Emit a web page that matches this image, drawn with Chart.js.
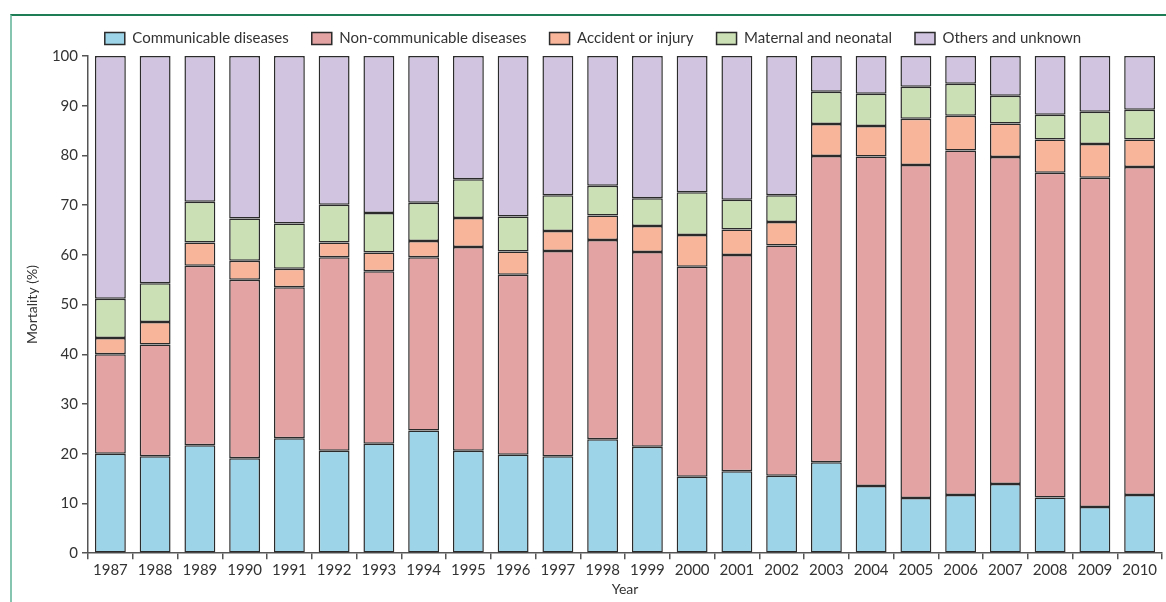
<!DOCTYPE html>
<html>
  <head>
    <style>
      body {
        margin: 0;
        background: #fff;
      }
      .frame {
        position: absolute;
        left: 10px;
        top: 14px;
        width: 1156px;
        height: 588px;
        border-top: 2px solid #1e7d55;
        border-left: 2px solid #86c6b1;
        pointer-events: none;
      }
      .chart-box {
        position: absolute;
        left: 0;
        top: 0;
        width: 1166px;
        height: 602px;
      }
    </style>
    <script src="https://cdn.jsdelivr.net/npm/chart.js"></script>
  </head>
  <body>
    <div class="frame"></div>
    <div class="chart-box">
      <canvas id="mortalityChart"></canvas>
    </div>
    <script>
      var years = ['1987', '1988', '1989', '1990', '1991', '1992', '1993', '1994',
        '1995', '1996', '1997', '1998', '1999', '2000', '2001', '2002', '2003',
        '2004', '2005', '2006', '2007', '2008', '2009', '2010'];

      // share of deaths (%) per category
      var communicable = [20.0, 19.5, 21.7, 19.1, 23.1, 20.6, 22.0, 24.7, 20.6, 19.8, 19.5, 22.9,
        21.4, 15.4, 16.5, 15.6, 18.3, 13.5, 11.1, 11.7, 13.9, 11.2, 9.3, 11.7];
      var nonCommunicable = [20.0, 22.5, 36.1, 35.9, 30.4, 38.9, 34.7, 34.8, 41.0, 36.2, 41.3, 40.1,
        39.2, 42.2, 43.5, 46.3, 61.6, 66.3, 67.0, 69.3, 65.8, 65.3, 66.2, 66.0];
      var accident = [3.3, 4.5, 4.7, 3.8, 3.7, 3.0, 3.8, 3.3, 5.8, 4.7, 4.0, 4.9,
        5.2, 6.4, 5.1, 4.7, 6.4, 6.1, 9.3, 7.0, 6.7, 6.7, 6.8, 5.5];
      var maternal = [7.9, 7.8, 8.2, 8.5, 9.1, 7.6, 7.9, 7.7, 7.8, 7.0, 7.2, 6.0,
        5.6, 8.6, 6.0, 5.4, 6.5, 6.5, 6.4, 6.4, 5.6, 5.0, 6.5, 6.0];
      var others = [48.8, 45.7, 29.3, 32.7, 33.7, 29.9, 31.6, 29.5, 24.8, 32.3, 28.0, 26.1,
        28.6, 27.4, 28.9, 28.0, 7.2, 7.6, 6.2, 5.6, 8.0, 11.8, 11.2, 10.8];

      var seriesNames = ['Communicable diseases', 'Non-communicable diseases',
        'Accident or injury', 'Maternal and neonatal', 'Others and unknown'];
      var seriesColors = ['#9dd4e7', '#e2a3a2', '#f9b59a', '#cbe0b5', '#d1c4e0'];
      var yTicks = [0, 10, 20, 30, 40, 50, 60, 70, 80, 90, 100];

      var seriesValues = [communicable, nonCommunicable, accident, maternal, others];
      var axisColor = '#555';
      var textColor = '#333';
      var fontFamily = 'Lato, "Noto Sans", sans-serif';

      var datasets = seriesValues.map(function(values, i) {
        return {
          label: seriesNames[i],
          data: values,
          backgroundColor: seriesColors[i],
          borderColor: '#2b2b2b',
          borderWidth: 1.5,
          borderSkipped: false,
          barPercentage: 0.69,
          categoryPercentage: 1.0
        };
      });

      var ctx = document.getElementById('mortalityChart').getContext('2d');
      var chart = new Chart(ctx, {
        type: 'bar',
        data: { labels: years, datasets: datasets },
        options: {
          responsive: true,
          maintainAspectRatio: false,
          animation: false,
          layout: { padding: { left: 24, right: 4, top: 8, bottom: 4 } },
          plugins: {
            tooltip: { enabled: false },
            legend: {
              position: 'top',
              labels: {
                boxWidth: 20,
                boxHeight: 12,
                padding: 23,
                color: textColor,
                font: { family: fontFamily, size: 15 }
              }
            }
          },
          scales: {
            x: {
              stacked: true,
              offset: true,
              grid: {
                offset: true,
                drawOnChartArea: false,
                drawTicks: true,
                tickLength: 6,
                color: axisColor,
                lineWidth: 1.5
              },
              border: { color: axisColor, width: 1.5 },
              ticks: {
                color: textColor,
                padding: 2,
                maxRotation: 0,
                font: { family: fontFamily, size: 15 }
              },
              title: {
                display: true,
                text: 'Year',
                color: textColor,
                padding: { top: 0, bottom: 0 },
                font: { family: fontFamily, size: 14 }
              }
            },
            y: {
              stacked: true,
              min: 0,
              max: 100,
              afterBuildTicks: function(scale) {
                scale.ticks = yTicks.map(function(v) { return { value: v }; });
              },
              afterFit: function(scale) {
                scale.width = 64;
              },
              grid: {
                drawOnChartArea: false,
                drawTicks: true,
                tickLength: 6,
                color: axisColor,
                lineWidth: 1.5
              },
              border: { color: axisColor, width: 1.5 },
              ticks: {
                color: textColor,
                padding: 4,
                font: { family: fontFamily, size: 15 }
              },
              title: {
                display: true,
                text: 'Mortality (%)',
                color: textColor,
                padding: { top: 0, bottom: 4 },
                font: { family: fontFamily, size: 14 }
              }
            }
          }
        }
      });
    </script>
  </body>
</html>
